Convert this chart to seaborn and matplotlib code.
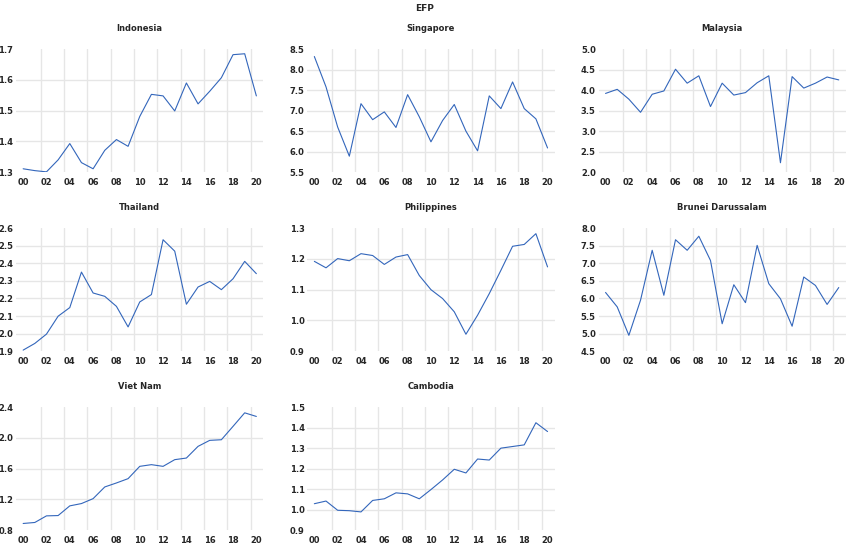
import numpy as np
import pandas as pd
import seaborn as sns
import matplotlib.pyplot as plt
from matplotlib.ticker import FixedLocator, FormatStrFormatter

# years 2000..2020
years = list(range(2000, 2021))

indonesia = [1.311, 1.305, 1.301, 1.340, 1.393, 1.331, 1.311, 1.371, 1.406, 1.384, 1.481,
             1.553, 1.548, 1.499, 1.590, 1.522, 1.563, 1.607, 1.682, 1.685, 1.548]
singapore = [8.32, 7.58, 6.60, 5.89, 7.17, 6.78, 6.97, 6.59, 7.39, 6.85, 6.24,
             6.76, 7.15, 6.50, 6.02, 7.36, 7.05, 7.70, 7.05, 6.80, 6.09]
malaysia = [3.92, 4.02, 3.78, 3.46, 3.90, 3.98, 4.51, 4.17, 4.35, 3.60, 4.17,
            3.88, 3.94, 4.18, 4.35, 2.23, 4.33, 4.05, 4.17, 4.32, 4.25]
thailand = [1.906, 1.944, 1.997, 2.099, 2.148, 2.350, 2.231, 2.212, 2.155, 2.038, 2.180,
            2.222, 2.534, 2.469, 2.167, 2.265, 2.297, 2.250, 2.312, 2.411, 2.341]
philippines = [1.192, 1.171, 1.201, 1.194, 1.217, 1.211, 1.182, 1.206, 1.214, 1.146, 1.100,
               1.071, 1.028, 0.955, 1.017, 1.087, 1.163, 1.241, 1.247, 1.282, 1.174]
brunei = [6.17, 5.76, 4.95, 5.95, 7.37, 6.09, 7.67, 7.37, 7.77, 7.08, 5.28,
          6.39, 5.88, 7.51, 6.42, 5.99, 5.21, 6.61, 6.37, 5.83, 6.31]
vietnam = [0.887, 0.900, 0.986, 0.990, 1.116, 1.146, 1.210, 1.362, 1.414, 1.470, 1.630,
           1.652, 1.630, 1.717, 1.738, 1.890, 1.968, 1.976, 2.150, 2.326, 2.279]
cambodia = [1.029, 1.042, 0.997, 0.995, 0.989, 1.045, 1.053, 1.082, 1.077, 1.053, 1.098,
            1.145, 1.197, 1.179, 1.247, 1.242, 1.300, 1.308, 1.316, 1.424, 1.381]

countries = ["Indonesia", "Singapore", "Malaysia", "Thailand", "Philippines",
             "Brunei Darussalam", "Viet Nam", "Cambodia"]
series = [indonesia, singapore, malaysia, thailand, philippines, brunei, vietnam, cambodia]

# y axis (min, max, step) for each panel
y_ranges = [(1.3, 1.7, 0.1), (5.5, 8.5, 0.5), (2.0, 5.0, 0.5), (1.9, 2.6, 0.1),
            (0.9, 1.3, 0.1), (4.5, 8.0, 0.5), (0.8, 2.4, 0.4), (0.9, 1.5, 0.1)]

df = pd.DataFrame({
    "country": np.repeat(countries, len(years)),
    "year": years * len(countries),
    "efp": np.concatenate(series),
})

sns.set_style("white")
plt.rcParams['font.family'] = ['DejaVu Sans']

line_color = "#3366bb"
grid_color = "#e6e6e6"

fig, axes = plt.subplots(3, 3, figsize=(8.5, 5.46), dpi=100)
fig.subplots_adjust(left=0.019, right=0.995, top=0.910, bottom=0.029,
                    wspace=0.178, hspace=0.455)

for ax, country, (lo, hi, step) in zip(axes.flat, countries, y_ranges):
    sub = df[df["country"] == country]
    sns.lineplot(data=sub, x="year", y="efp", ax=ax, color=line_color, linewidth=0.8)

    ax.set_xlim(1999.4, 2020.6)
    ax.set_ylim(lo, hi)
    ax.set_yticks(np.arange(lo, hi + step / 2, step))
    ax.yaxis.set_major_formatter(FormatStrFormatter('%.1f'))
    ax.set_xticks(years[::2])
    ax.set_xticklabels([f"{y % 100:02d}" for y in years[::2]])
    ax.xaxis.set_minor_locator(FixedLocator(np.arange(2001.5, 2020, 2)))

    ax.grid(axis="x", which="minor", color=grid_color, linewidth=1)
    ax.grid(axis="y", which="major", color=grid_color, linewidth=1)
    ax.grid(axis="x", which="major", visible=False)
    gl = ax.get_ygridlines()
    gl[0].set_visible(False)
    gl[-1].set_visible(False)

    ax.tick_params(axis="both", which="both", length=0, labelsize=6)
    ax.tick_params(axis="x", pad=4)
    ax.tick_params(axis="y", pad=2)
    for lbl in ax.get_xticklabels() + ax.get_yticklabels():
        lbl.set_fontweight("bold")

    sns.despine(ax=ax, left=True, bottom=True)
    ax.set_xlabel("")
    ax.set_ylabel("")
    ax.set_title(country, fontsize=6, fontweight="bold", pad=13)

axes.flat[-1].axis("off")
fig.suptitle("EFP", fontsize=6.5, fontweight="bold", y=0.985, va="center")

fig.savefig("out.png", dpi=100)
